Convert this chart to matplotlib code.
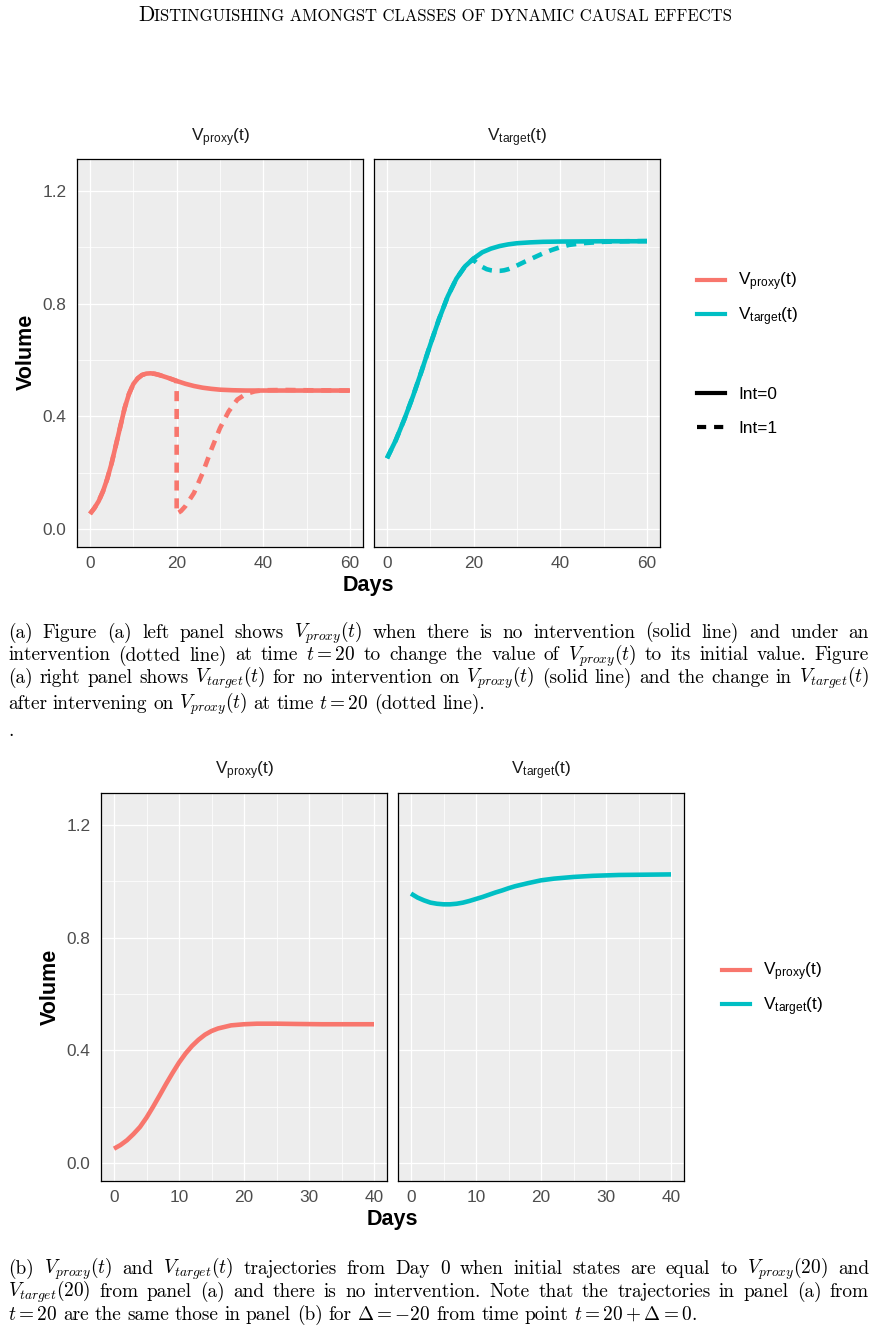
import matplotlib
matplotlib.use('Agg')
import matplotlib.pyplot as plt
from matplotlib.lines import Line2D

W, H = 876, 1331
plt.rcParams['font.family'] = ['Liberation Sans', 'DejaVu Sans']
plt.rcParams['mathtext.fontset'] = 'custom'
plt.rcParams['mathtext.rm'] = 'Liberation Sans'
plt.rcParams['mathtext.it'] = 'Liberation Sans:italic'
plt.rcParams['mathtext.bf'] = 'Liberation Sans:bold'

# ---------------- data ----------------
# Panel (a), V_proxy, Int=0
a_proxy_days0 = [0, 1, 2, 3, 4, 5, 6, 7, 8, 9, 10, 11, 12, 13, 14, 15, 16, 18, 20,
                 22, 24, 26, 28, 30, 33, 36, 40, 50, 60]
a_proxy_int0 = [0.055, 0.075, 0.100, 0.135, 0.180, 0.235, 0.300, 0.365, 0.430, 0.480,
                0.515, 0.535, 0.547, 0.552, 0.553, 0.551, 0.547, 0.537, 0.526,
                0.516, 0.508, 0.502, 0.498, 0.495, 0.493, 0.492, 0.492, 0.492, 0.492]
# Panel (a), V_proxy, Int=1 (intervention at t=20)
a_proxy_days1 = [0, 1, 2, 3, 4, 5, 6, 7, 8, 9, 10, 11, 12, 13, 14, 15, 16, 18, 20,
                 20, 21, 22, 24, 26, 28, 30, 32, 34, 36, 38, 40, 45, 50, 60]
a_proxy_int1 = [0.055, 0.075, 0.100, 0.135, 0.180, 0.235, 0.300, 0.365, 0.430, 0.480,
                0.515, 0.535, 0.547, 0.552, 0.553, 0.551, 0.547, 0.537, 0.526,
                0.055, 0.065, 0.082, 0.129, 0.200, 0.283, 0.359, 0.418, 0.460, 0.480,
                0.489, 0.493, 0.494, 0.493, 0.492]
# Panel (a), V_target, Int=0
a_target_days0 = [0, 2, 4, 6, 8, 10, 12, 14, 16, 18, 20, 22, 24, 26, 28, 30, 33, 36,
                  40, 50, 60]
a_target_int0 = [0.252, 0.315, 0.390, 0.472, 0.562, 0.655, 0.745, 0.825, 0.888, 0.932,
                 0.960, 0.982, 0.995, 1.004, 1.010, 1.014, 1.017, 1.019, 1.020, 1.021,
                 1.021]
# Panel (a), V_target, Int=1
a_target_days1 = [0, 2, 4, 6, 8, 10, 12, 14, 16, 18, 20, 20, 21, 22, 23, 24, 25, 26,
                  27, 28, 29, 30, 32, 34, 36, 38, 40, 42, 45, 50, 55, 60]
a_target_int1 = [0.252, 0.315, 0.390, 0.472, 0.562, 0.655, 0.745, 0.825, 0.888, 0.932,
                 0.960, 0.954, 0.940, 0.930, 0.922, 0.918, 0.916, 0.916, 0.918, 0.922,
                 0.928, 0.935, 0.950, 0.964, 0.978, 0.990, 1.000, 1.008, 1.014, 1.019,
                 1.021, 1.022]
# Panel (b), from Day 0
b_days = [0, 1, 2, 3, 4, 5, 6, 7, 8, 9, 10, 11, 12, 13, 14, 15, 16, 18, 20, 22, 25,
          28, 32, 36, 40]
b_proxy = [0.052, 0.065, 0.082, 0.104, 0.129, 0.162, 0.200, 0.240, 0.281, 0.320,
           0.357, 0.389, 0.416, 0.438, 0.456, 0.469, 0.478, 0.489, 0.493, 0.495,
           0.495, 0.494, 0.493, 0.493, 0.493]
b_target = [0.956, 0.942, 0.932, 0.924, 0.920, 0.918, 0.918, 0.920, 0.924, 0.930,
            0.937, 0.944, 0.952, 0.960, 0.967, 0.975, 0.982, 0.993, 1.003, 1.009,
            1.015, 1.019, 1.022, 1.023, 1.024]

y_ticks = [0.0, 0.4, 0.8, 1.2]
y_ticklabels = ['0.0', '0.4', '0.8', '1.2']
y_minor = [0.2, 0.6, 1.0]
a_xticks = [0, 20, 40, 60]
a_xminor = [10, 30, 50]
b_xticks = [0, 10, 20, 30, 40]
b_xminor = [5, 15, 25, 35]

strip_labels = [r'$\mathregular{V_{proxy}(t)}$', r'$\mathregular{V_{target}(t)}$']
int_labels = ['Int=0', 'Int=1']

RED = '#F8766D'
CYAN = '#00BFC4'
LW = 3.3
DASH = (2.2, 1.7)

fig = plt.figure(figsize=(W / 100, H / 100), dpi=100)


def px_axes(x0, y0, x1, y1):
    return fig.add_axes([x0 / W, 1 - y1 / H, (x1 - x0) / W, (y1 - y0) / H])


def style(ax, xticks, xminor, xlim, show_y):
    ax.set_facecolor('#EDEDED')
    ax.set_xlim(xlim)
    ax.set_ylim(-0.0625, 1.3125)
    ax.set_xticks(xticks)
    ax.set_xticklabels([str(v) for v in xticks])
    ax.set_xticks(xminor, minor=True)
    ax.set_yticks(y_ticks)
    ax.set_yticks(y_minor, minor=True)
    if show_y:
        ax.set_yticklabels(y_ticklabels)
    else:
        ax.set_yticklabels([])
    ax.grid(which='major', color='white', lw=0.9)
    ax.grid(which='minor', color='white', lw=0.55)
    ax.set_axisbelow(True)
    ax.tick_params(which='both', length=0, labelsize=12.4, labelcolor='#4D4D4D')
    ax.tick_params(axis='x', pad=6.5)
    ax.tick_params(axis='y', pad=7.5)
    for s in ax.spines.values():
        s.set_color('black')
        s.set_linewidth(0.9)


def strip(ax, label, y_px):
    bb = ax.get_position()
    fig.text(bb.x0 + bb.width / 2, 1 - y_px / H, label, ha='center', va='center',
             fontsize=12.4, color='#1A1A1A')


# ---------------- figure (a) ----------------
axA1 = px_axes(77, 159, 363, 547)
axA2 = px_axes(374, 159, 660, 547)
style(axA1, a_xticks, a_xminor, (-3, 63), True)
style(axA2, a_xticks, a_xminor, (-3, 63), False)

axA1.plot(a_proxy_days1, a_proxy_int1, color=RED, lw=LW, ls=(0, DASH),
          dash_capstyle='butt', solid_joinstyle='miter')
axA1.plot(a_proxy_days0, a_proxy_int0, color=RED, lw=LW, solid_capstyle='butt')
axA2.plot(a_target_days1, a_target_int1, color=CYAN, lw=LW, ls=(0, DASH),
          dash_capstyle='butt')
axA2.plot(a_target_days0, a_target_int0, color=CYAN, lw=LW, solid_capstyle='butt')

strip(axA1, strip_labels[0], 138)
strip(axA2, strip_labels[1], 138)
fig.text(26 / W, 1 - 352 / H, 'Volume', rotation=90, ha='center', va='center',
         fontsize=15.5, fontweight='bold')
fig.text(368 / W, 1 - 586 / H, 'Days', ha='center', va='center',
         fontsize=15.5, fontweight='bold')

col_handles = [Line2D([], [], color=RED, lw=3.0), Line2D([], [], color=CYAN, lw=3.0)]
lt_handles = [Line2D([], [], color='black', lw=3.0),
              Line2D([], [], color='black', lw=3.0, ls=(0, (2.2, 1.9)))]
leg_kw = dict(frameon=False, fontsize=12.4, handlelength=1.6, handletextpad=0.8,
              borderaxespad=0, borderpad=0, loc='center left')
fig.legend(col_handles, strip_labels, bbox_to_anchor=(697 / W, 1 - 299.5 / H),
           labelspacing=0.7, **leg_kw)
fig.legend(lt_handles, int_labels, bbox_to_anchor=(697 / W, 1 - 411.5 / H),
           labelspacing=1.15, **leg_kw)

# ---------------- figure (b) ----------------
axB1 = px_axes(101, 793, 387, 1181)
axB2 = px_axes(398, 793, 684, 1181)
style(axB1, b_xticks, b_xminor, (-2, 42), True)
style(axB2, b_xticks, b_xminor, (-2, 42), False)
axB1.plot(b_days, b_proxy, color=RED, lw=LW, solid_capstyle='butt')
axB2.plot(b_days, b_target, color=CYAN, lw=LW, solid_capstyle='butt')
strip(axB1, strip_labels[0], 771)
strip(axB2, strip_labels[1], 771)
fig.text(50 / W, 1 - 987 / H, 'Volume', rotation=90, ha='center', va='center',
         fontsize=15.5, fontweight='bold')
fig.text(392 / W, 1 - 1220 / H, 'Days', ha='center', va='center',
         fontsize=15.5, fontweight='bold')
fig.legend(col_handles, strip_labels, bbox_to_anchor=(722 / W, 1 - 989.5 / H),
           labelspacing=0.7, **leg_kw)

# ---------------- page text ----------------
renderer = fig.canvas.get_renderer()
CAP_SIZE = 13.9
SERIF = 'cmr10'


def text_width(t):
    return t.get_window_extent(renderer=renderer).width


def caption_line(line, y_px, justify=True, x0=8, x1=869):
    words = line.split(' ')
    arts = [fig.text(0, 1 - y_px / H, w, fontsize=CAP_SIZE, family=SERIF,
                     math_fontfamily='cm', va='baseline', ha='left') for w in words]
    widths = [text_width(a) for a in arts]
    if justify and len(words) > 1:
        gap = (x1 - x0 - sum(widths)) / (len(words) - 1)
    else:
        gap = CAP_SIZE * 100 / 72 * 0.30
    x = x0
    for a, w in zip(arts, widths):
        a.set_x(x / W)
        x += w + gap


cap_a = [
    r'(a) Figure (a) left panel shows $V_{proxy}(t)$ when there is no intervention (solid line) and under an',
    r'intervention (dotted line) at time $t=20$ to change the value of $V_{proxy}(t)$ to its initial value. Figure',
    r'(a) right panel shows $V_{target}(t)$ for no intervention on $V_{proxy}(t)$ (solid line) and the change in $V_{target}(t)$',
    r'after intervening on $V_{proxy}(t)$ at time $t=20$ (dotted line).',
    r'.',
]
cap_b = [
    r'(b) $V_{proxy}(t)$ and $V_{target}(t)$ trajectories from Day 0 when initial states are equal to $V_{proxy}(20)$ and',
    r'$V_{target}(20)$ from panel (a) and there is no intervention. Note that the trajectories in panel (a) from',
    r'$t=20$ are the same those in panel (b) for $\Delta=-20$ from time point $t=20+\Delta=0$.',
]
for i, (line, y) in enumerate(zip(cap_a, [637.5, 660.5, 683, 709, 736])):
    caption_line(line, y, justify=(i < 3))
for i, (line, y) in enumerate(zip(cap_b, [1273.5, 1297, 1320])):
    caption_line(line, y, justify=(i < 2))

# running header in small caps
head_first = 'D'
head_rest = 'ISTINGUISHING AMONGST CLASSES OF DYNAMIC CAUSAL EFFECTS'
t1 = fig.text(0, 1 - 21 / H, head_first, fontsize=15.5, family=SERIF, va='baseline')
t2 = fig.text(0, 1 - 21 / H, head_rest, fontsize=12.0, family=SERIF, va='baseline')
w1, w2 = text_width(t1), text_width(t2)
start = 435 - (w1 + w2) / 2
t1.set_x(start / W)
t2.set_x((start + w1) / W)

fig.savefig('out.png', dpi=100)
